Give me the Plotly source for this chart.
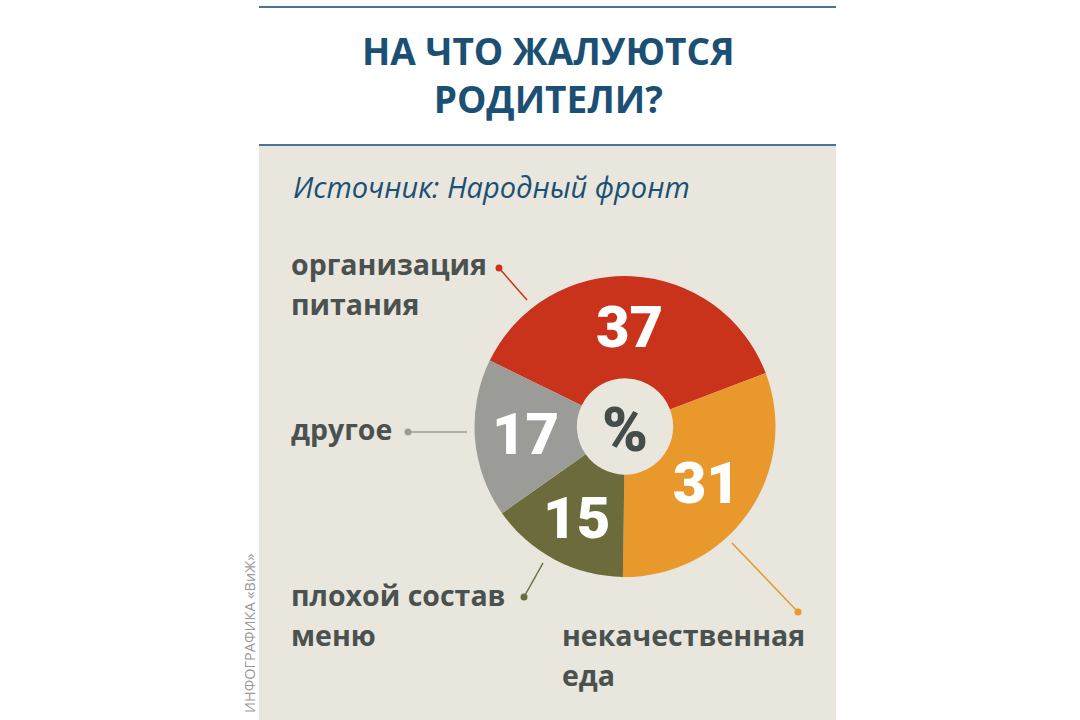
import plotly.graph_objects as go

# data
categories = ["организация<br>питания", "некачественная<br>еда", "плохой состав<br>меню", "другое"]
values = [37, 31, 15, 17]
colors = ["#c9331c", "#e9982c", "#6b6b3b", "#9b9b97"]

W, H = 1080, 720
BG = "#e9e6dd"
TITLE_C = "#1b5074"
LINE_C = "#4a7596"
LABEL_C = "#4b514e"


def px(x):
    return x / W


def py(y):
    return 1 - y / H


fig = go.Figure()

fig.add_trace(go.Pie(
    labels=categories,
    values=values,
    sort=False,
    direction="clockwise",
    rotation=-64,
    hole=0.32,
    marker=dict(colors=colors, line=dict(width=0)),
    textinfo="value",
    textposition="inside",
    insidetextorientation="horizontal",
    textfont=dict(family="Roboto", size=58, color="white", weight=900),
    domain=dict(x=[px(474), px(776)], y=[py(577), py(276)]),
    showlegend=False,
    hoverinfo="label+value",
))

shapes = [
    # beige panel
    dict(type="rect", xref="paper", yref="paper", x0=px(259), x1=px(836), y0=0, y1=py(146),
         fillcolor=BG, line=dict(width=0), layer="below"),
    dict(type="line", xref="paper", yref="paper", x0=px(259), x1=px(836), y0=py(7), y1=py(7),
         line=dict(color=LINE_C, width=2)),
    dict(type="line", xref="paper", yref="paper", x0=px(259), x1=px(836), y0=py(145), y1=py(145),
         line=dict(color=LINE_C, width=2)),
]

# leader lines: (dot x, dot y, end x, end y)
leaders = [
    (499, 268, 527, 300),
    (798, 612, 732, 543),
    (524, 597, 543, 563),
    (408, 432, 467, 432),
]
for (x0, y0, x1, y1), c in zip(leaders, colors):
    shapes.append(dict(type="line", xref="paper", yref="paper", x0=px(x0), y0=py(y0), x1=px(x1), y1=py(y1),
                       line=dict(color=c, width=1.5)))
    shapes.append(dict(type="circle", xref="paper", yref="paper",
                       x0=px(x0 - 3.5), x1=px(x0 + 3.5), y0=py(y0 + 3.5), y1=py(y0 - 3.5),
                       fillcolor=c, line=dict(width=0)))

# label positions: left x, middle y of first line; lines are 40px apart
label_pos = [(289, 264), (560, 635), (289, 595), (289, 429)]
LINE_GAP = 40

annotations = [
    dict(text="НА ЧТО ЖАЛУЮТСЯ<br>РОДИТЕЛИ?", x=px(548), y=py(75), xref="paper", yref="paper",
         showarrow=False, xanchor="center", yanchor="middle", align="center",
         font=dict(family="Open Sans", size=37, color=TITLE_C, weight=700)),
    dict(text="<i>Источник: Народный фронт</i>", x=px(291), y=py(187), xref="paper", yref="paper",
         showarrow=False, xanchor="left", yanchor="middle",
         font=dict(family="Open Sans", size=29, color=TITLE_C)),
    dict(text="%", x=px(625), y=py(429), xref="paper", yref="paper", showarrow=False,
         xanchor="center", yanchor="middle",
         font=dict(family="Roboto", size=62, color="#454d4a", weight=900)),
    dict(text="ИНФОГРАФИКА «ВиЖ»", x=px(249), y=py(634), xref="paper", yref="paper", showarrow=False,
         textangle=-90, xanchor="center", yanchor="middle",
         font=dict(family="Open Sans", size=14.5, color="#9a9a9a")),
]
for cat, (lx, ly) in zip(categories, label_pos):
    for i, part in enumerate(cat.split("<br>")):
        annotations.append(dict(text=part, x=px(lx), y=py(ly + i * LINE_GAP), xref="paper", yref="paper",
                                showarrow=False, xanchor="left", yanchor="middle", align="left",
                                font=dict(family="Open Sans", size=28.5, color=LABEL_C, weight=700)))

fig.update_layout(
    width=W, height=H,
    margin=dict(l=0, r=0, t=0, b=0),
    paper_bgcolor="white",
    plot_bgcolor="white",
    shapes=shapes,
    annotations=annotations,
    uniformtext=dict(minsize=58, mode="show"),
)

# page body has a default margin; drop it so the figure fills the window
fig.write_html("out.html", config={"displayModeBar": False},
               post_script="document.body.style.margin='0';")
